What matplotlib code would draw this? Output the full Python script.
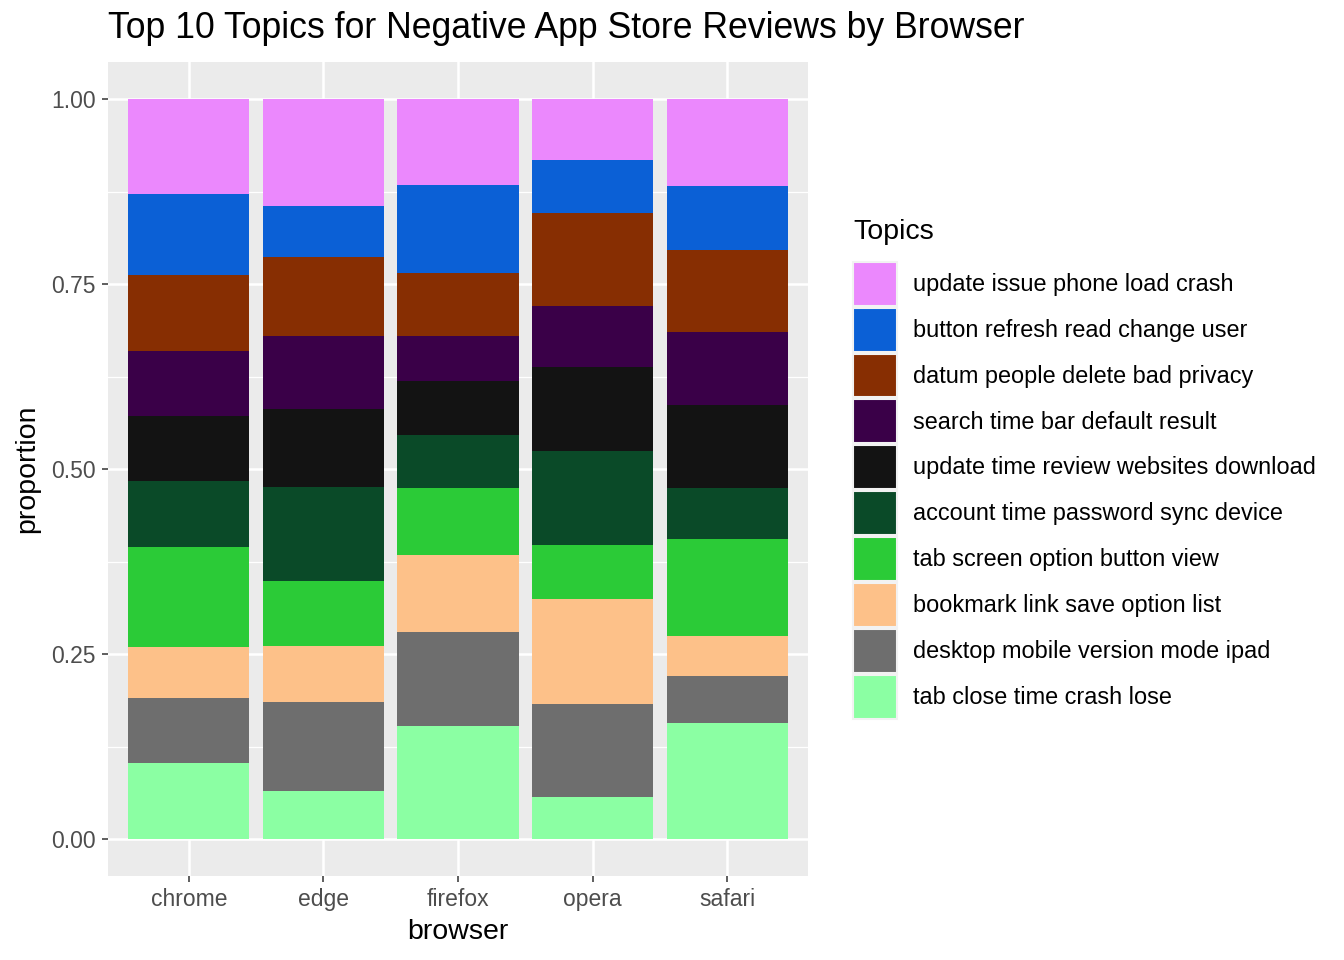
import matplotlib.pyplot as plt
from matplotlib.patches import Patch
import numpy as np

plt.rcParams['font.family'] = ['Liberation Sans', 'DejaVu Sans']

# datos
browsers = ["chrome", "edge", "firefox", "opera", "safari"]
topics = ["update issue phone load crash", "button refresh read change user",
          "datum people delete bad privacy", "search time bar default result",
          "update time review websites download", "account time password sync device",
          "tab screen option button view", "bookmark link save option list",
          "desktop mobile version mode ipad", "tab close time crash lose"]
colores = ["#EB88FD", "#0B60D6", "#872E02", "#3A0048", "#131313",
           "#0A4A28", "#2BCB37", "#FDC189", "#6E6E6E", "#8BFFA3"]

# proporciones por topico (mismo orden que topics), una lista por browser
chrome = [0.128, 0.110, 0.102, 0.088, 0.088, 0.089, 0.136, 0.068, 0.088, 0.103]
edge = [0.145, 0.069, 0.107, 0.099, 0.105, 0.127, 0.088, 0.076, 0.120, 0.065]
firefox = [0.116, 0.119, 0.085, 0.062, 0.072, 0.072, 0.091, 0.104, 0.127, 0.153]
opera = [0.082, 0.072, 0.126, 0.082, 0.114, 0.127, 0.073, 0.142, 0.126, 0.057]
safari = [0.118, 0.086, 0.111, 0.099, 0.112, 0.069, 0.132, 0.053, 0.064, 0.157]

datos = np.array([chrome, edge, firefox, opera, safari])
datos = datos / datos.sum(axis=1, keepdims=True)

fig = plt.figure(figsize=(13.44, 9.6), dpi=100)
ax = fig.add_axes([108 / 1344, 1 - 876 / 960, 700 / 1344, 814 / 960])
ax.set_facecolor("#EBEBEB")

x = np.arange(len(browsers))
base = np.zeros(len(browsers))
# se apila desde abajo: el ultimo topico queda abajo
for i in range(len(topics) - 1, -1, -1):
    ax.bar(x, datos[:, i], width=0.9, bottom=base, color=colores[i], zorder=3)
    base += datos[:, i]

ax.set_xlim(-0.6, 4.6)
ax.set_ylim(-0.05, 1.05)
ax.set_yticks([0, 0.25, 0.5, 0.75, 1.0])
ax.set_yticklabels(["0.00", "0.25", "0.50", "0.75", "1.00"])
ax.set_yticks([0.125, 0.375, 0.625, 0.875], minor=True)
ax.set_xticks(x)
ax.set_xticklabels(browsers)
ax.grid(which="major", color="white", linewidth=1.8, zorder=1)
ax.grid(which="minor", axis="y", color="white", linewidth=0.9, zorder=1)
ax.set_axisbelow(True)
for s in ax.spines.values():
    s.set_visible(False)
ax.tick_params(which="major", length=4.6, width=1.1, color="#333333",
               labelsize=16.5, labelcolor="#4D4D4D", pad=4)
ax.tick_params(which="minor", length=0)

ax.set_xlabel("browser", fontsize=20.5, labelpad=6)
ax.set_ylabel("proportion", fontsize=20.5, labelpad=8)
fig.text(108 / 1344, 1 - 28 / 960, "Top 10 Topics for Negative App Store Reviews by Browser",
         fontsize=25.7, va="center", ha="left")

# leyenda: titulo aparte para controlar el espacio
fig.text(853 / 1344, 1 - 232 / 960, "Topics", fontsize=20.5, va="center", ha="left")
handles = [Patch(facecolor=c, edgecolor="#F2F2F2", linewidth=1.5) for c in colores]
leg = fig.legend(handles, topics, loc="upper left",
                 bbox_to_anchor=(834 / 1344, 1 - 243 / 960),
                 fontsize=16.9, frameon=False, handlelength=1.87, handleheight=2.5,
                 labelspacing=0.085, handletextpad=0.68, borderpad=0.3)

fig.savefig("out.png", dpi=100)
